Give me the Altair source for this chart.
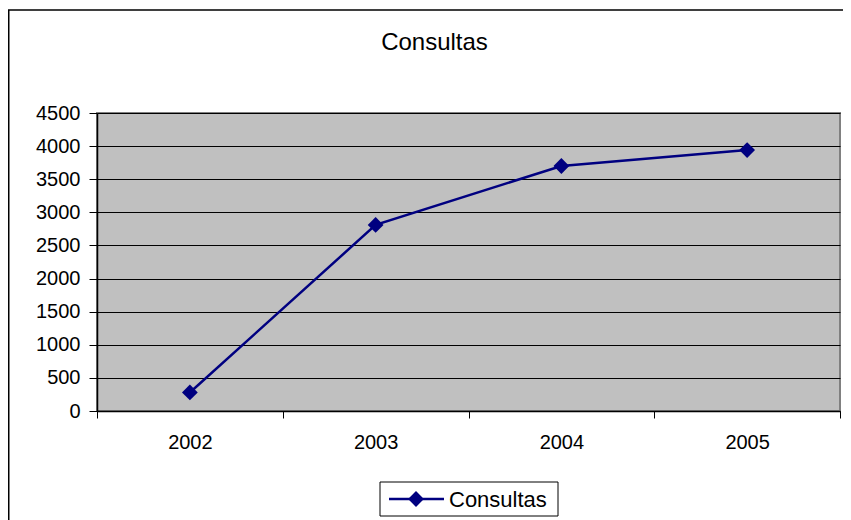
import altair as alt
import pandas as pd

years = ["2002", "2003", "2004", "2005"]
values = [280, 2810, 3700, 3940]
series_name = ["Consultas"]
y_ticks = [0, 500, 1000, 1500, 2000, 2500, 3000, 3500, 4000, 4500]

df = pd.DataFrame({"year": years, "value": values, "series": series_name * len(years)})

FONT = "Liberation Sans"
NAVY = "#000080"

PL, PT, W, H = 89, 105, 743, 298
TOTAL_W, TOTAL_H = 835, 512

x_enc = alt.X(
    "year:O",
    scale=alt.Scale(type="band", paddingInner=0, paddingOuter=0),
    bandPosition=0.5,
    axis=alt.Axis(
        title=None, labelAngle=0, tickBand="extent", tickSize=7, tickColor="black",
        domainColor="black", domainWidth=1.5, labelFontSize=20, labelFont=FONT,
        labelColor="black", labelPadding=14, grid=False,
    ),
)
y_enc = alt.Y(
    "value:Q",
    scale=alt.Scale(domain=[0, 4500], nice=False),
    axis=alt.Axis(
        title=None, values=y_ticks, format="d", tickSize=8, tickColor="black",
        domainColor="black", domainWidth=1.5, labelFontSize=20, labelFont=FONT,
        labelColor="black", labelPadding=9, grid=True, gridColor="black", gridWidth=1,
    ),
)

line = alt.Chart(df).mark_line(
    strokeWidth=2.5, color=NAVY,
    point=alt.OverlayMarkDef(filled=True, shape="diamond", size=250, color=NAVY),
).encode(x=x_enc, y=y_enc)

# outer chart-area border
one = pd.DataFrame({"series": series_name})
border = alt.Chart(one).mark_rect(
    fill=None, stroke="black", strokeWidth=1.5
).encode(
    x=alt.value(-PL + 0.75),
    x2=alt.value(TOTAL_W - PL + 20),
    y=alt.value(-PT + 2),
    y2=alt.value(TOTAL_H - PT + 20),
)

# legend (box, line sample, diamond sample, label)
LX, LY = 283, 369
leg_box = alt.Chart(one).mark_rect(fill="white", stroke="black", strokeWidth=1).encode(
    x=alt.value(LX), x2=alt.value(LX + 178), y=alt.value(LY), y2=alt.value(LY + 34)
)
leg_line = alt.Chart(one).mark_rule(color=NAVY, strokeWidth=2.5).encode(
    x=alt.value(LX + 9), x2=alt.value(LX + 64), y=alt.value(LY + 17)
)
leg_pt = alt.Chart(one).mark_point(filled=True, shape="diamond", size=250, color=NAVY, opacity=1).encode(
    x=alt.value(LX + 36), y=alt.value(LY + 17)
)
leg_txt = alt.Chart(one).mark_text(
    align="left", baseline="middle", fontSize=22, font=FONT, color="black"
).encode(x=alt.value(LX + 69), y=alt.value(LY + 18), text="series:N")

chart = alt.layer(border, line, leg_box, leg_line, leg_pt, leg_txt).properties(
    width=W,
    height=H,
    autosize=alt.AutoSizeParams(type="none"),
    padding={"left": PL, "top": PT, "right": TOTAL_W - PL - W, "bottom": TOTAL_H - PT - H},
    background="white",
    title=alt.TitleParams(
        "Consultas", fontSize=24, font=FONT, fontWeight="normal", color="black",
        anchor="middle", frame="group", dx=-34, baseline="alphabetic", offset=-65,
    ),
).configure_view(fill="#C0C0C0", stroke="#808080", strokeWidth=2)

chart.save("out.html", embed_options={"renderer": "svg", "actions": False})
